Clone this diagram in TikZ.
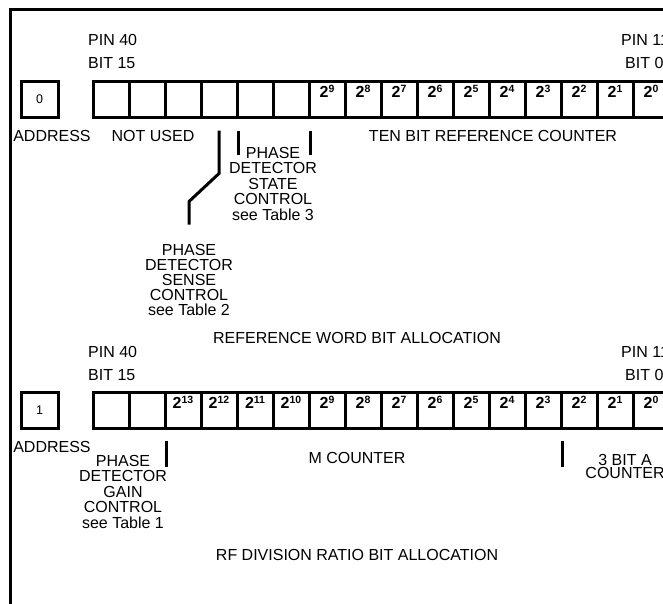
\documentclass[tikz,border=0pt]{standalone}
\usepackage{fontspec}
\setmainfont{Liberation Sans}
\usetikzlibrary{positioning,calc}
\newcommand{\pw}[1]{\textbf{2\raisebox{4.8pt}{\fontsize{10.5}{10.5}\selectfont\bfseries #1}}}

\begin{document}
\begin{tikzpicture}[x=1pt,y=-1pt,
  bitcell/.style={draw,line width=3pt,minimum width=36pt,minimum height=36pt,inner sep=0pt,text height=12pt,text depth=15.4pt,font=\fontsize{16}{16}\selectfont},
  addr/.style={draw,line width=3pt,minimum width=37pt,minimum height=36pt,inner sep=0pt,font=\fontsize{12.5}{12.5}\selectfont},
  lab/.style={inner sep=0pt,font=\fontsize{16}{15.5}\selectfont,align=center},
  tick/.style={line width=3pt}]
  \useasboundingbox (0,0) rectangle (663,603);
  \clip (0,0) rectangle (663,603);
  \draw[line width=3pt] (10,9) rectangle (720,660);

  % reference word
  \node[lab,anchor=west] (pin40a) at (88,40) {PIN 40};
  \node[lab,anchor=west] (bit15a) at (88,63) {BIT 15};
  \node[lab,anchor=west] (pin11a) at (621,40) {PIN 11};
  \node[lab,anchor=west] (bit0a) at (625,63) {BIT 0};
  \node[addr] (adr0) at (39.5,99) {0};
  \foreach \i in {0,...,15}{
    \pgfmathtruncatemacro{\e}{15-\i}
    \ifnum\i>5 \def\txt{\pw{\e}}\else\def\txt{}\fi
    \node[bitcell] (r\i) at ({111+36*\i},99) {\txt};
  }
  \node[lab] (adrlab0) at (52,136) {ADDRESS};
  \node[lab] (unused) at (153,136) {NOT USED};
  \node[lab] (refcnt) at (493,136) {TEN BIT REFERENCE COUNTER};
  \node[lab,anchor=north] (state) at (273,147) {PHASE\\DETECTOR\\STATE\\CONTROL\\see Table 3};
  \node[lab,anchor=north,font=\fontsize{16}{15}\selectfont] (sense) at (189,244.5) {PHASE\\DETECTOR\\SENSE\\CONTROL\\see Table 2};
  \node[lab] (refword) at (357,338) {REFERENCE WORD BIT ALLOCATION};
  \draw[tick] ($(r3.south)+(0,12)$) -- ++(0,43) -- ++(-30,28) -- ($(sense.north)+(0,-20)$);
  \draw[tick] ($(r3.south east)+(0,12)$) -- ++(0,24);
  \draw[tick] ($(r5.south east)+(0,12)$) -- ++(0,24);

  % rf division ratio word
  \node[lab,anchor=west] (pin40b) at (88,352) {PIN 40};
  \node[lab,anchor=west] (bit15b) at (88,375) {BIT 15};
  \node[lab,anchor=west] (pin11b) at (621,352) {PIN 11};
  \node[lab,anchor=west] (bit0b) at (625,375) {BIT 0};
  \node[addr] (adr1) at (39.5,410) {1};
  \foreach \i in {0,...,15}{
    \pgfmathtruncatemacro{\e}{15-\i}
    \ifnum\i>1 \def\txt{\pw{\e}}\else\def\txt{}\fi
    \node[bitcell] (m\i) at ({111+36*\i},410) {\txt};
  }
  \node[lab] (adrlab1) at (52,447) {ADDRESS};
  \node[lab,anchor=north] (gain) at (123,455) {PHASE\\DETECTOR\\GAIN\\CONTROL\\see Table 1};
  \node[lab] (mcnt) at (357,458) {M COUNTER};
  \node[lab,anchor=north,font=\fontsize{16}{12.5}\selectfont] (acnt) at (625,454.5) {3 BIT A\\COUNTER};
  \node[lab] (rfword) at (357,555) {RF DIVISION RATIO BIT ALLOCATION};
  \draw[tick] ($(m1.south east)+(0,11)$) -- ++(0,26);
  \draw[tick] ($(m12.south east)+(0,11)$) -- ++(0,26);
\end{tikzpicture}
\end{document}
